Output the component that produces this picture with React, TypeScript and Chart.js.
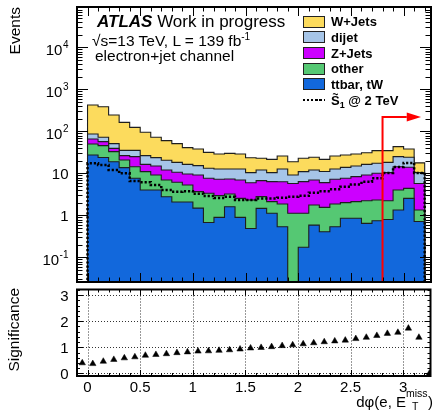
import React, { useEffect, useRef } from "react";
import { Chart, registerables } from "chart.js";

Chart.register(...registerables);

// ---------------- data ----------------
const binLowEdges = [0.0, 0.1, 0.2, 0.3, 0.4, 0.5, 0.6, 0.7, 0.8, 0.9, 1.0, 1.1, 1.2, 1.3, 1.4, 1.5, 1.6, 1.7, 1.8, 1.9, 2.0, 2.1, 2.2, 2.3, 2.4, 2.5, 2.6, 2.7, 2.8, 2.9, 3.0, 3.1];
const binWidth = 0.1;

const ttbarTW = [27.6, 24, 19.1, 13.8, 7.7, 4.05, 4.05, 2.8, 2.1, 2.1, 1.5, 0.68, 0.9, 1.62, 0.9, 0.49, 1.48, 1.13, 0.54, 0, 0.175, 0.59, 0.41, 0.54, 0.86, 0.86, 0.65, 0.75, 0.8, 1.35, 2.56, 0.72];
const other = [22.8, 22, 14, 7.2, 6.8, 7.05, 5.15, 4.2, 4.1, 3.2, 2.2, 2.7, 2.07, 1.63, 1.66, 1.85, 1.33, 1.01, 1.34, 1.13, 0.955, 1.19, 1.15, 1.34, 1.16, 1.28, 1.6, 1.59, 1.45, 2.7, 1.87, 0.63];
const zJets = [15.9, 11.3, 6.6, 5.6, 10.7, 5.4, 5.9, 5.1, 4.5, 4.4, 5.5, 4.3, 4.3, 4.15, 4.44, 3.7, 3.94, 4.26, 4.5, 4.67, 5.27, 5.2, 4.5, 5.4, 5.7, 6.3, 6.95, 7.8, 8.25, 10.45, 9.6, 4.45];
const dijet = [20.7, 15.4, 11.6, 9, 10.4, 10.1, 8.7, 8.5, 7.7, 6.8, 6.2, 5.6, 5.5, 5.4, 5.8, 4.45, 5.35, 4.1, 6.4, 3.4, 4.7, 5.1, 5.05, 5.5, 6.3, 6.7, 7.3, 7.4, 7.9, 10.7, 10.3, 4.7];
const wJets = [341, 317, 196, 129, 90, 69, 49, 40, 33, 24.7, 22.9, 18.6, 16.3, 17.4, 16.3, 13.3, 10.9, 11.2, 13.3, 9.9, 11.9, 12.2, 10.6, 13.3, 13.6, 14, 14.8, 17.5, 16.6, 18.3, 14, 7.4];
const signalS1 = [17.5, 15.9, 12.1, 10.1, 6.6, 6.2, 5.3, 4.05, 3.7, 3.8, 3.3, 2.9, 2.6, 2.8, 2.35, 2.35, 2.55, 2.55, 2.65, 2.8, 2.95, 3.5, 3.8, 4.2, 4.85, 5.5, 6.4, 7.7, 10.3, 14.2, 17.8, 10.3];

const sigBinCenters = [-0.05, 0.05, 0.15, 0.25, 0.35, 0.45, 0.55, 0.65, 0.75, 0.85, 0.95, 1.05, 1.15, 1.25, 1.35, 1.45, 1.55, 1.65, 1.75, 1.85, 1.95, 2.05, 2.15, 2.25, 2.35, 2.45, 2.55, 2.65, 2.75, 2.85, 2.95, 3.05, 3.15, 3.25];
const significance = [0.40, 0.37, 0.46, 0.53, 0.59, 0.63, 0.69, 0.72, 0.75, 0.79, 0.82, 0.85, 0.86, 0.88, 0.90, 0.93, 0.97, 0.99, 1.02, 1.06, 1.09, 1.13, 1.17, 1.21, 1.24, 1.27, 1.33, 1.38, 1.45, 1.53, 1.57, 1.73, 1.38, 0];

const legendLabels = ["W+Jets", "dijet", "Z+Jets", "other", "ttbar, tW"];
const yLogTickValues = [0.1, 1, 10, 100, 1000, 10000];
const yLogTickLabels: [string, string][] = [["10", "-1"], ["1", ""], ["10", ""], ["10", "2"], ["10", "3"], ["10", "4"]];
const xTickValues = [0, 0.5, 1, 1.5, 2, 2.5, 3];
const xTickLabels = ["0", "0.5", "1", "1.5", "2", "2.5", "3"];
const sigTickValues = [0, 1, 2, 3];
const sigTickLabels = ["0", "1", "2", "3"];

const cutValue = 2.8;
const arrowLevel = 220;
const arrowHeadBase = 3.03;
const arrowTip = 3.165;

// ---------------- styles ----------------
const FONT = '"Liberation Sans", Arial, Helvetica, sans-serif';
const COLORS = {
  w: "#FCDB5D",
  dijet: "#A6C5E8",
  z: "#CC00FF",
  other: "#55C873",
  tt: "#1268DC",
};
const X_MIN = -0.1;
const X_MAX = 3.26;
const Y_MIN = 0.0261;
const Y_MAX = 92000;
const FLOOR = 1e-3;

function stepData(vals: number[]) {
  const n = vals.length;
  const pts: { x: number; y: number }[] = [{ x: binLowEdges[0], y: FLOOR }];
  for (let i = 0; i < n; i++) pts.push({ x: binLowEdges[i], y: vals[i] > 0 ? vals[i] : FLOOR });
  const end = binLowEdges[n - 1] + binWidth;
  pts.push({ x: end, y: vals[n - 1] > 0 ? vals[n - 1] : FLOOR });
  pts.push({ x: end, y: FLOOR });
  return pts;
}

function cumulative(...series: number[][]) {
  return series[0].map((_, i) => series.reduce((s, arr) => s + arr[i], 0));
}

function drawXTicks(ctx: any, a: any, x: any, minorLen: number, majorLen: number) {
  const k0 = Math.ceil(x.min / 0.1 - 1e-6);
  const k1 = Math.floor(x.max / 0.1 + 1e-6);
  for (let k = k0; k <= k1; k++) {
    const v = k / 10;
    const major = Math.abs(v * 2 - Math.round(v * 2)) < 1e-6;
    const len = major ? majorLen : minorLen;
    const px = Math.round(x.getPixelForValue(v)) + 0.5;
    ctx.moveTo(px, a.bottom);
    ctx.lineTo(px, a.bottom - len);
    ctx.moveTo(px, a.top);
    ctx.lineTo(px, a.top + len);
  }
}

const topPlugin = {
  id: "topDecor",
  afterDatasetsDraw(chart: any) {
    const { ctx, chartArea: a, scales } = chart;
    const x = scales.x;
    const y = scales.y;
    const xc = x.getPixelForValue(cutValue);
    const ya = y.getPixelForValue(arrowLevel);
    const xh = x.getPixelForValue(arrowHeadBase);
    const xt = x.getPixelForValue(arrowTip);
    ctx.save();
    ctx.strokeStyle = "#ff0000";
    ctx.fillStyle = "#ff0000";
    ctx.lineWidth = 2;
    ctx.beginPath();
    ctx.moveTo(xc, a.bottom);
    ctx.lineTo(xc, ya);
    ctx.lineTo(xh, ya);
    ctx.stroke();
    ctx.beginPath();
    ctx.moveTo(xh, ya - 4.5);
    ctx.lineTo(xt, ya);
    ctx.lineTo(xh, ya + 4.5);
    ctx.closePath();
    ctx.fill();
    ctx.restore();
  },
  afterDraw(chart: any) {
    const { ctx, chartArea: a, scales } = chart;
    const x = scales.x;
    const y = scales.y;
    ctx.save();
    ctx.strokeStyle = "#000";
    ctx.lineWidth = 1;
    ctx.beginPath();
    drawXTicks(ctx, a, x, 4.5, 9);
    const e0 = Math.floor(Math.log10(Y_MIN));
    const e1 = Math.ceil(Math.log10(Y_MAX));
    for (let e = e0; e <= e1; e++) {
      for (let m = 1; m <= 9; m++) {
        const v = m * Math.pow(10, e);
        if (v < Y_MIN || v > Y_MAX) continue;
        const py = Math.round(y.getPixelForValue(v)) + 0.5;
        const len = m === 1 ? 11 : 5.5;
        ctx.moveTo(a.left, py);
        ctx.lineTo(a.left + len, py);
        ctx.moveTo(a.right, py);
        ctx.lineTo(a.right - len, py);
      }
    }
    ctx.stroke();
    ctx.lineWidth = 2;
    ctx.strokeRect(a.left, a.top, a.right - a.left, a.bottom - a.top);
    // y labels
    ctx.fillStyle = "#000";
    ctx.textAlign = "right";
    ctx.textBaseline = "alphabetic";
    const rx = a.left - 8.5;
    yLogTickValues.forEach((v, i) => {
      const py = y.getPixelForValue(v);
      const [base, exp] = yLogTickLabels[i];
      if (exp) {
        ctx.font = `10px ${FONT}`;
        const ew = ctx.measureText(exp).width;
        ctx.fillText(exp, rx, py + 1);
        ctx.font = `15px ${FONT}`;
        ctx.fillText(base, rx - ew - 0.5, py + 8);
      } else {
        ctx.font = `15px ${FONT}`;
        ctx.fillText(base, rx, py + 5.4);
      }
    });
    ctx.restore();
  },
};

const bottomPlugin = {
  id: "bottomDecor",
  beforeDatasetsDraw(chart: any) {
    const { ctx, chartArea: a, scales } = chart;
    const x = scales.x;
    const y = scales.y;
    ctx.save();
    ctx.strokeStyle = "#333";
    ctx.lineWidth = 1;
    ctx.setLineDash([1, 2]);
    ctx.beginPath();
    xTickValues.forEach((v) => {
      const px = Math.round(x.getPixelForValue(v)) + 0.5;
      ctx.moveTo(px, a.top);
      ctx.lineTo(px, a.bottom);
    });
    sigTickValues.forEach((v) => {
      const py = Math.round(y.getPixelForValue(v)) + 0.5;
      ctx.moveTo(a.left, py);
      ctx.lineTo(a.right, py);
    });
    ctx.stroke();
    ctx.restore();
  },
  afterDraw(chart: any) {
    const { ctx, chartArea: a, scales } = chart;
    const x = scales.x;
    const y = scales.y;
    ctx.save();
    ctx.strokeStyle = "#000";
    ctx.lineWidth = 1;
    ctx.beginPath();
    drawXTicks(ctx, a, x, 3, 6);
    for (let k = 0; k <= 16; k++) {
      const v = k / 5;
      if (v > y.max) continue;
      const py = Math.round(y.getPixelForValue(v)) + 0.5;
      const len = k % 5 === 0 ? 6 : 3;
      ctx.moveTo(a.left, py);
      ctx.lineTo(a.left + len, py);
      ctx.moveTo(a.right, py);
      ctx.lineTo(a.right - len, py);
    }
    ctx.stroke();
    ctx.lineWidth = 2;
    ctx.strokeRect(a.left, a.top, a.right - a.left, a.bottom - a.top);
    ctx.fillStyle = "#000";
    ctx.font = `15px ${FONT}`;
    ctx.textBaseline = "alphabetic";
    ctx.textAlign = "right";
    sigTickValues.forEach((v, i) => {
      ctx.fillText(sigTickLabels[i], a.left - 8.5, y.getPixelForValue(v) + 5.4);
    });
    ctx.textAlign = "center";
    xTickValues.forEach((v, i) => {
      ctx.fillText(xTickLabels[i], x.getPixelForValue(v), a.bottom + 16);
    });
    ctx.restore();
  },
};

function topConfig(): any {
  const cTT = ttbarTW;
  const cOther = cumulative(ttbarTW, other);
  const cZ = cumulative(ttbarTW, other, zJets);
  const cDijet = cumulative(ttbarTW, other, zJets, dijet);
  const cW = cumulative(ttbarTW, other, zJets, dijet, wJets);
  const layer = (label: string, vals: number[], color: string) => ({
    label,
    data: stepData(vals),
    stepped: "before",
    fill: "start",
    backgroundColor: color,
    borderColor: "#1e1e1e",
    borderWidth: 1.1,
    pointRadius: 0,
    tension: 0,
  });
  return {
    type: "line",
    data: {
      datasets: [
        {
          label: "S1 @ 2 TeV",
          data: stepData(signalS1),
          stepped: "before",
          fill: false,
          borderColor: "#000",
          borderWidth: 2.5,
          borderDash: [2.2, 1.9],
          pointRadius: 0,
        },
        layer("ttbar, tW", cTT, COLORS.tt),
        layer("other", cOther, COLORS.other),
        layer("Z+Jets", cZ, COLORS.z),
        layer("dijet", cDijet, COLORS.dijet),
        layer("W+Jets", cW, COLORS.w),
      ],
    },
    options: {
      responsive: false,
      animation: false,
      devicePixelRatio: 1,
      events: [],
      layout: { padding: { left: 77, right: 4, top: 7, bottom: 3 } },
      plugins: { legend: { display: false }, tooltip: { enabled: false } },
      scales: {
        x: { type: "linear", min: X_MIN, max: X_MAX, display: false },
        y: { type: "logarithmic", min: Y_MIN, max: Y_MAX, display: false },
      },
    },
    plugins: [topPlugin],
  };
}

function bottomConfig(): any {
  return {
    type: "scatter",
    data: {
      datasets: [
        {
          label: "Significance",
          data: sigBinCenters.map((x, i) => ({ x, y: significance[i] })),
          pointStyle: "triangle",
          pointRadius: 3.7,
          backgroundColor: "#000",
          borderColor: "#000",
          borderWidth: 0.5,
        },
      ],
    },
    options: {
      responsive: false,
      animation: false,
      devicePixelRatio: 1,
      events: [],
      layout: { padding: { left: 77, right: 4, top: 3, bottom: 37 } },
      plugins: { legend: { display: false }, tooltip: { enabled: false } },
      scales: {
        x: { type: "linear", min: X_MIN, max: X_MAX, display: false },
        y: { type: "linear", min: -0.1, max: 3.22, display: false },
      },
    },
    plugins: [bottomPlugin],
  };
}

// ---------------- HTML text helpers ----------------
const Txt = ({ x, base, size, children, style }: any) => (
  <div
    style={{
      position: "absolute",
      left: x,
      top: base - 0.8465 * size,
      fontSize: size,
      lineHeight: `${size}px`,
      whiteSpace: "nowrap",
      ...style,
    }}
  >
    {children}
  </div>
);

const legendColors = [COLORS.w, COLORS.dijet, COLORS.z, COLORS.other, COLORS.tt];

export default function App() {
  const topRef = useRef<HTMLCanvasElement>(null);
  const botRef = useRef<HTMLCanvasElement>(null);

  useEffect(() => {
    const top = new Chart(topRef.current as HTMLCanvasElement, topConfig());
    const bot = new Chart(botRef.current as HTMLCanvasElement, bottomConfig());
    return () => {
      top.destroy();
      bot.destroy();
    };
  }, []);

  const rowY = (i: number) => 21.5 + i * 15.7;

  return (
    <div
      style={{
        position: "fixed",
        left: 0,
        top: 0,
        width: 435,
        height: 413,
        background: "#fff",
        overflow: "hidden",
        fontFamily: FONT,
        color: "#000",
      }}
    >
      <canvas ref={topRef} width={435} height={285} style={{ position: "absolute", left: 0, top: 0 }} />
      <canvas ref={botRef} width={435} height={128} style={{ position: "absolute", left: 0, top: 285 }} />

      {/* ATLAS label */}
      <Txt x={97} base={27} size={17}>
        <span style={{ fontWeight: "bold", fontStyle: "italic" }}>ATLAS</span> Work in progress
      </Txt>
      <Txt x={92} base={46} size={15.5}>
        √s=13 TeV, L = 139 fb
        <span style={{ fontSize: 10, lineHeight: 0, position: "relative", top: -6 }}>-1</span>
      </Txt>
      <Txt x={95} base={61} size={15.5}>
        electron+jet channel
      </Txt>

      {/* legend */}
      {legendLabels.map((lab, i) => (
        <React.Fragment key={lab}>
          <div
            style={{
              position: "absolute",
              left: 303,
              top: rowY(i) - 6,
              width: 22,
              height: 12,
              boxSizing: "border-box",
              border: "1px solid #222",
              background: legendColors[i],
            }}
          />
          <Txt x={331} base={rowY(i) + 4.7} size={13} style={{ fontWeight: "bold" }}>
            {lab}
          </Txt>
        </React.Fragment>
      ))}
      <div
        style={{
          position: "absolute",
          left: 303,
          top: rowY(5) - 1.5,
          width: 22,
          height: 2.6,
          background: "repeating-linear-gradient(to right, #000 0px, #000 2.2px, transparent 2.2px, transparent 4.1px)",
        }}
      />
      <Txt x={331} base={rowY(5) + 4.7} size={13} style={{ fontWeight: "bold" }}>
        <span style={{ position: "relative", display: "inline-block" }}>
          S
          <span
            style={{
              position: "absolute",
              left: 0,
              right: 0,
              top: -4,
              textAlign: "center",
              fontSize: 10,
              lineHeight: "10px",
            }}
          >
            ~
          </span>
        </span>
        <span style={{ fontSize: 9, lineHeight: 0, position: "relative", top: 3 }}>1</span> @ 2 TeV
      </Txt>

      {/* axis titles */}
      <div
        style={{
          position: "absolute",
          left: 15 - 60,
          top: 67 - 10,
          width: 120,
          height: 20,
          lineHeight: "20px",
          fontSize: 15.5,
          textAlign: "right",
          transform: "rotate(-90deg)",
          whiteSpace: "nowrap",
        }}
      >
        Events
      </div>
      <div
        style={{
          position: "absolute",
          left: 14 - 60,
          top: 348 - 10,
          width: 120,
          height: 20,
          lineHeight: "20px",
          fontSize: 15.5,
          textAlign: "right",
          transform: "rotate(-90deg)",
          whiteSpace: "nowrap",
        }}
      >
        Significance
      </div>
      <div
        style={{
          position: "absolute",
          right: 2,
          top: 407 - 0.8465 * 15,
          fontSize: 15,
          lineHeight: "15px",
          whiteSpace: "nowrap",
        }}
      >
        dφ(e, E
        <span style={{ display: "inline-block", position: "relative", width: 22, height: 1 }}>
          <span style={{ position: "absolute", left: 0, top: -18, fontSize: 10.5, lineHeight: "10.5px" }}>miss</span>
          <span style={{ position: "absolute", left: 6, top: -5, fontSize: 10.5, lineHeight: "10.5px" }}>T</span>
        </span>
        )
      </div>
    </div>
  );
}
